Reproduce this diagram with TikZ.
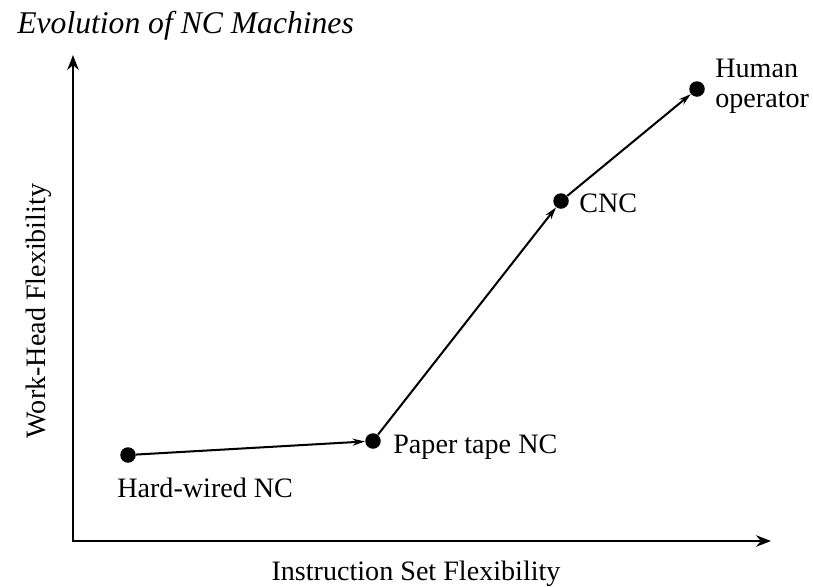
\documentclass[tikz,border=0pt]{standalone}
\usepackage{fontspec}
\setmainfont{Liberation Serif}
\usetikzlibrary{positioning,arrows.meta}

\begin{document}
\begin{tikzpicture}[x=0.02cm, y=-0.02cm, >={Stealth[length=7pt,width=4pt]},
		dot/.style={circle, fill, inner sep=0pt, minimum size=0.31cm},
		lbl/.style={inner sep=0pt, font=\fontsize{16}{17}\selectfont},
		axis/.style={line width=1.4pt, {Stealth[length=8.5pt,width=6.5pt]}-{Stealth[length=8.5pt,width=6.5pt]}}]
		\useasboundingbox (0,0) rectangle (813,586);

		\node[anchor=base west, inner sep=0pt, font=\fontsize{18}{20}\selectfont\itshape] (title) at (17,33) {Evolution of NC Machines};

		% axes
		\coordinate (ytop) at (73,55);
		\coordinate (xend) at (771,541);
		\draw[axis] (ytop) |- (xend);
		\node[lbl, anchor=base] (xlab) at (416,580) {Instruction Set Flexibility};
		\node[lbl, rotate=90, anchor=base] (ylab) at (45,311) {Work-Head Flexibility};

		% stages
		\node[dot] (hw) at (128,455) {};
		\node[dot] (pt) at (373,441) {};
		\node[dot] (cnc) at (561,201) {};
		\node[dot] (hum) at (697,89) {};

		\node[lbl, anchor=base west] (hwl) at ([shift={(-11,42)}]hw.center) {Hard-wired NC};
		\node[lbl, anchor=base west] (ptl) at ([shift={(20,12)}]pt.center) {Paper tape NC};
		\node[lbl, anchor=base west] (cncl) at ([shift={(18,11)}]cnc.center) {CNC};
		\node[lbl, align=left, anchor=west] (huml) at ([shift={(18,-3)}]hum.center) {Human\\operator};

		\path[->, line width=1.15pt, draw]
		(hw) edge (pt)
		(pt) edge (cnc)
		(cnc) edge (hum);
	\end{tikzpicture}
\end{document}
